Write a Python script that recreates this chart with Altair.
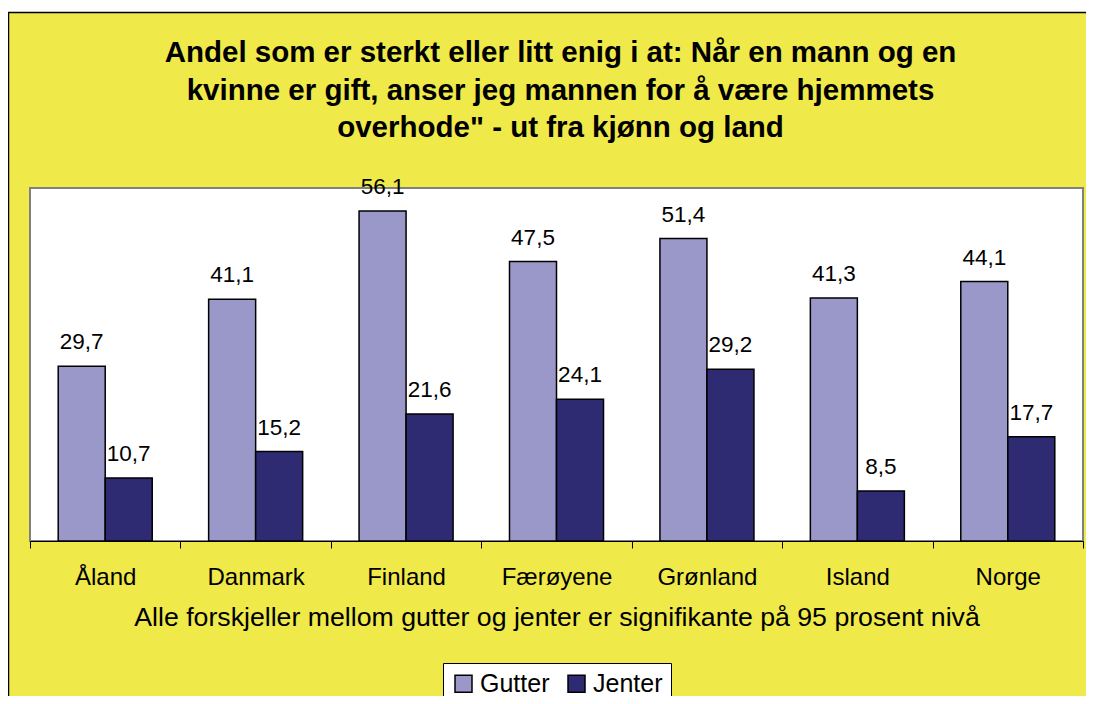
import altair as alt
import pandas as pd

countries = ["Åland", "Danmark", "Finland", "Færøyene", "Grønland", "Island", "Norge"]
series = ["Gutter", "Jenter"]
gutter = [29.7, 41.1, 56.1, 47.5, 51.4, 41.3, 44.1]
jenter = [10.7, 15.2, 21.6, 24.1, 29.2, 8.5, 17.7]
colors = ["#9A98C9", "#2E2B73"]

title_lines = [
    "Andel som er sterkt eller litt enig i at: Når en mann og en",
    "kvinne er gift, anser jeg mannen for å være hjemmets",
    "overhode\" - ut fra kjønn og land",
]
subtitle = "Alle forskjeller mellom gutter og jenter er signifikante på 95 prosent nivå"

rows = []
for i, c in enumerate(countries):
    rows.append({"land": c, "kjonn": "Gutter", "verdi": gutter[i]})
    rows.append({"land": c, "kjonn": "Jenter", "verdi": jenter[i]})
df = pd.DataFrame(rows)

W, H = 1053, 353
FONT = "Liberation Sans"
YELLOW = "#EFE94A"

deco = pd.DataFrame({"d": [0]})
bg_yellow = alt.Chart(deco).mark_rect(fill=YELLOW, stroke="black", strokeWidth=1.5).encode(
    x=alt.value(-21.5), x2=alt.value(1100), y=alt.value(-175.5), y2=alt.value(600)
)
bg_plot = alt.Chart(deco).mark_rect(fill="white", stroke="#808080", strokeWidth=2).encode(
    x=alt.value(0), x2=alt.value(W), y=alt.value(0), y2=alt.value(H)
)

x_enc = alt.X(
    "land:N",
    sort=countries,
    scale=alt.Scale(paddingInner=0, paddingOuter=0),
    axis=alt.Axis(
        title=subtitle,
        titleFont=FONT,
        titleFontSize=26.7,
        titleFontWeight="normal",
        titleColor="black",
        titlePadding=15,
        labelFont=FONT,
        labelFontSize=24,
        labelColor="black",
        labelAngle=0,
        labelPadding=17,
        tickBand="extent",
        tickSize=7,
        tickColor="black",
        domainColor="black",
        domainWidth=1,
        grid=False,
        zindex=1,
    ),
)
xo_enc = alt.XOffset("kjonn:N", sort=series, scale=alt.Scale(paddingInner=0, paddingOuter=0.6))
y_enc = alt.Y("verdi:Q", scale=alt.Scale(domain=[0, 60], nice=False, zero=True), axis=None)

base = alt.Chart(df).encode(x=x_enc, xOffset=xo_enc, y=y_enc)

bars = base.mark_bar(stroke="black", strokeWidth=1.5).encode(
    color=alt.Color(
        "kjonn:N",
        sort=series,
        scale=alt.Scale(domain=series, range=colors),
        legend=alt.Legend(
            title=None,
            orient="none",
            legendX=413,
            legendY=475,
            direction="horizontal",
            fillColor="white",
            strokeColor="black",
            padding=8,
            labelFont=FONT,
            labelFontSize=25,
            labelColor="black",
            labelOffset=4,
            symbolType="square",
            symbolSize=289,
            symbolStrokeColor="black",
            symbolStrokeWidth=1.5,
            symbolOpacity=1,
            columnPadding=14,
            zindex=1,
        ),
    )
)

labels = base.transform_calculate(
    lbl="replace(format(datum.verdi, '.1f'), '.', ',')"
).mark_text(font=FONT, fontSize=22.5, color="black", baseline="alphabetic", dy=-17).encode(
    text="lbl:N"
)

chart = (
    alt.layer(bg_yellow, bg_plot, bars, labels)
    .properties(
        width=W,
        height=H,
        autosize=alt.AutoSizeParams(type="none"),
        padding={"left": 22, "top": 180, "right": 3, "bottom": 155},
        background="white",
        title=alt.TitleParams(
            text=title_lines,
            font=FONT,
            fontSize=29.5,
            fontWeight="bold",
            color="black",
            anchor="middle",
            frame="group",
            baseline="alphabetic",
            lineHeight=37.5,
            offset=0,
            dx=4,
            dy=155,
            zindex=1,
        ),
    )
    .configure_view(stroke=None, fill=None)
)

chart.save("out.html", embed_options={"renderer": "svg", "actions": False})
